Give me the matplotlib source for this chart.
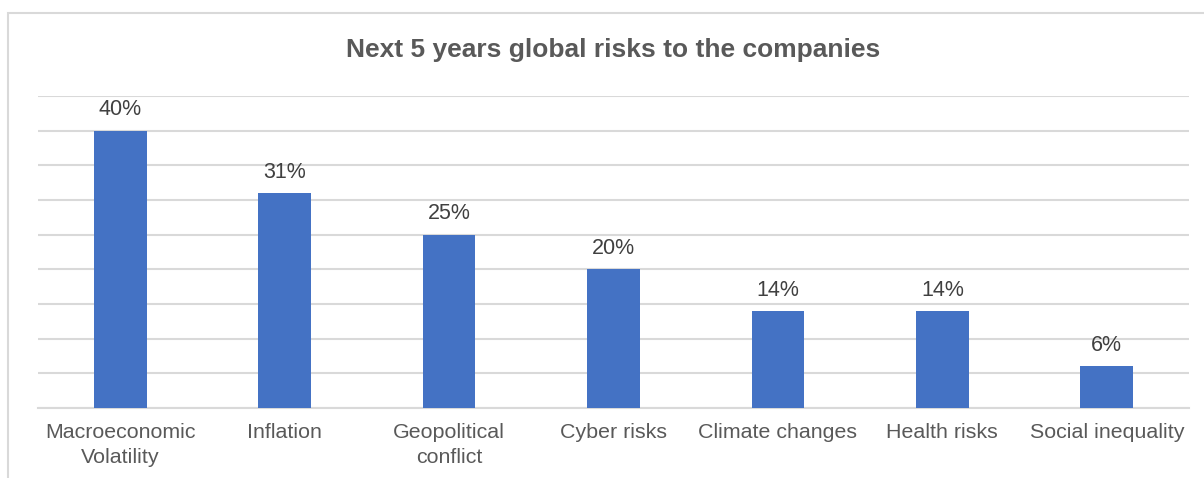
import matplotlib.pyplot as plt
from matplotlib.patches import Rectangle

plt.rcParams["font.family"] = ["Liberation Sans", "DejaVu Sans"]

categories = [
    "Macroeconomic\nVolatility",
    "Inflation",
    "Geopolitical\nconflict",
    "Cyber risks",
    "Climate changes",
    "Health risks",
    "Social inequality",
]
shares = [40, 31, 25, 20, 14, 14, 6]
title = "Next 5 years global risks to the companies"

bar_color = "#4472C4"
grid_color = "#D9D9D9"

fig = plt.figure(figsize=(12.04, 4.78), dpi=100)
ax = fig.add_axes([38 / 1204, 1 - 408 / 478, 1151 / 1204, 312 / 478])

x = range(len(categories))
bars = ax.bar(x, shares, width=0.32, color=bar_color, zorder=3)
for rect, v in zip(bars, shares):
    ax.annotate(f"{v}%", (rect.get_x() + rect.get_width() / 2, v),
                xytext=(0, 7.5), textcoords="offset points",
                ha="center", va="bottom", fontsize=15.5, color="#404040")

ax.set_xlim(-0.5, len(categories) - 0.5)
ax.set_ylim(0, 45)
ax.set_yticks(range(0, 50, 5))
ax.yaxis.grid(True, color=grid_color, linewidth=1.5, zorder=0)
ax.tick_params(axis="y", left=False, labelleft=False)
ax.tick_params(axis="x", length=0, pad=11, labelsize=15.4, labelcolor="#595959")
ax.set_xticks(list(x))
ax.set_xticklabels(categories, linespacing=1.4)
for s in ["top", "right", "left"]:
    ax.spines[s].set_visible(False)
ax.spines["bottom"].set_color(grid_color)
ax.spines["bottom"].set_linewidth(1.5)

ax.set_title(title, fontsize=19, fontweight="bold", color="#595959", pad=28)

# light chart frame
fig.patches.append(Rectangle((8 / 1204, -0.2), 1.5, 1.2 - 12.5 / 478, transform=fig.transFigure,
                             fill=False, edgecolor=grid_color, linewidth=1.5))

fig.savefig("out.png", dpi=100)
